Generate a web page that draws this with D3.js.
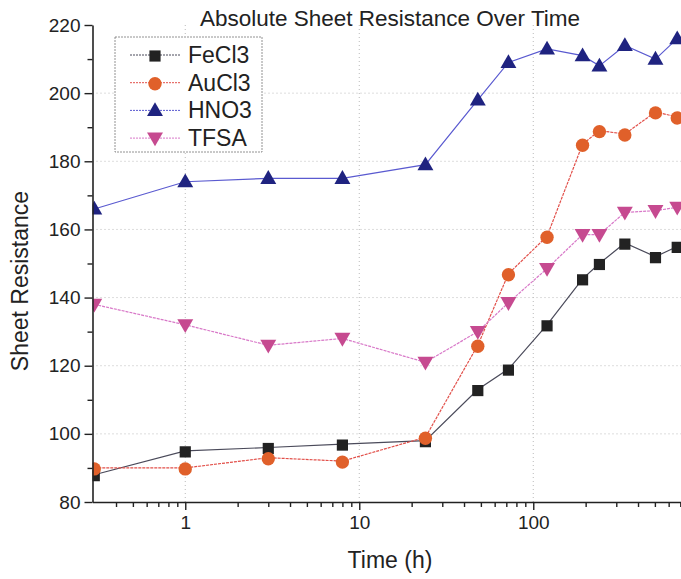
<!DOCTYPE html>
<html>
<head>
<meta charset="utf-8">
<script src="https://cdn.jsdelivr.net/npm/d3@7"></script>
<style>
  body { margin: 0; background: #fff; }
  svg { display: block; font-family: "Liberation Sans", Arial, sans-serif; }
</style>
</head>
<body>
<div id="chart"></div>
<script>
// time points (h)
var times = [0.3, 1, 3, 8, 24, 48, 72, 120, 192, 240, 336, 504, 672]
var fecl3 = [88, 95, 96, 97, 98, 113, 119, 132, 145.5, 150, 156, 152, 155]
var aucl3 = [90, 90, 93, 92, 99, 126, 147, 158, 185, 189, 188, 194.5, 193]
var hno3 = [166, 174, 175, 175, 179, 198, 209, 213, 211, 208, 214, 210, 216]
var tfsa = [138, 132, 126, 128, 121, 130, 138.5, 148.5, 158.5, 158.5, 165, 165.5, 166.5]
var names = ["FeCl3", "AuCl3", "HNO3", "TFSA"]
var yTicks = [80, 100, 120, 140, 160, 180, 200, 220]
var xTicks = [1, 10, 100]

var W = 681, H = 579
var pLeft = 92.5, pTop = 25, pBottom = 502
var decade = 174
var xMin = 0.293

var svg = d3.select("#chart").append("svg")
    .attr("width", W).attr("height", H)

var x = d3.scaleLog().domain([xMin, 1000]).range([pLeft, pLeft + Math.log10(1000 / xMin) * decade])
var y = d3.scaleLinear().domain([80, 220]).range([pBottom, pTop])

// 网格
var grid = svg.append("g")
grid.selectAll(".gx").data(xTicks).enter().append("line")
    .attr("x1", d => x(d)).attr("x2", d => x(d))
    .attr("y1", pTop).attr("y2", pBottom)
    .attr("stroke", "#bbb").attr("stroke-dasharray", "1,3")
grid.selectAll(".gy").data(yTicks.slice(1, -1)).enter().append("line")
    .attr("x1", pLeft).attr("x2", W)
    .attr("y1", d => y(d)).attr("y2", d => y(d))
    .attr("stroke", "#bbb").attr("stroke-dasharray", "1,3")

svg.append("clipPath").attr("id", "clip")
    .append("rect").attr("x", pLeft).attr("y", pTop - 10)
    .attr("width", W - pLeft).attr("height", pBottom - pTop + 10)

var series = [
    { name: names[0], vals: fecl3, line: "#4a4a5a", fill: "#222", shape: d3.symbolSquare, size: 125, rot: 0, dash: null },
    { name: names[1], vals: aucl3, line: "#e2504a", fill: "#e0602a", shape: d3.symbolCircle, size: 140, rot: 0, dash: "3,1" },
    { name: names[2], vals: hno3, line: "#5a5ad0", fill: "#1f2380", shape: d3.symbolTriangle, size: 110, rot: 0, dash: null },
    { name: names[3], vals: tfsa, line: "#d878c8", fill: "#c64a90", shape: d3.symbolTriangle, size: 110, rot: 180, dash: "3,1" }
]

var plot = svg.append("g").attr("clip-path", "url(#clip)")
var line = d3.line().x(d => x(d[0])).y(d => y(d[1]))

series.forEach(function (s) {
    var pts = times.map((t, i) => [t, s.vals[i]])
    plot.append("path")
        .attr("d", line(pts))
        .attr("fill", "none")
        .attr("stroke", s.line)
        .attr("stroke-width", 1.2)
        .attr("stroke-dasharray", s.dash)
    plot.selectAll(null).data(pts).enter().append("path")
        .attr("d", d3.symbol().type(s.shape).size(s.size))
        .attr("transform", d => "translate(" + x(d[0]) + "," + (y(d[1]) + (s.rot ? -1 : 1)) + ") rotate(" + s.rot + ")")
        .attr("fill", s.fill)
})

// 坐标轴
var xAxis = d3.axisBottom(x)
    .tickValues(d3.range(4, 10).map(i => i * 0.1)
        .concat(d3.range(1, 10), d3.range(10, 100, 10), d3.range(100, 1000, 100)))
    .tickFormat(d => xTicks.indexOf(d) >= 0 ? d : "")
    .tickSizeOuter(0)
var gx = svg.append("g").attr("transform", "translate(0," + pBottom + ")").call(xAxis)
gx.selectAll(".tick line").attr("y2", d => xTicks.indexOf(d) >= 0 ? 8 : 5).attr("stroke-width", 1.4)
gx.select(".domain").attr("stroke-width", 1.6)
gx.selectAll("text").attr("font-size", 19).attr("fill", "#222").attr("y", 14).attr("dy", "0.71em")

var yAxis = d3.axisLeft(y)
    .tickValues(d3.range(80, 221, 10))
    .tickFormat(d => yTicks.indexOf(d) >= 0 ? d : "")
    .tickSizeOuter(0)
var gy = svg.append("g").attr("transform", "translate(" + pLeft + ",0)").call(yAxis)
gy.selectAll(".tick line").attr("x2", d => yTicks.indexOf(d) >= 0 ? -8 : -5).attr("stroke-width", 1.4)
gy.select(".domain").attr("stroke-width", 1.6)
gy.selectAll("text").attr("font-size", 19).attr("fill", "#222").attr("x", -12)
svg.selectAll(".domain, .tick line").attr("stroke", "#222")

// 标题和轴标签
svg.append("text").text("Absolute Sheet Resistance Over Time")
    .attr("x", 390).attr("y", 26).attr("text-anchor", "middle")
    .attr("font-size", 22.5).attr("fill", "#222")
svg.append("text").text("Time (h)")
    .attr("x", 390).attr("y", 568).attr("text-anchor", "middle")
    .attr("font-size", 23).attr("fill", "#222")
svg.append("text").text("Sheet Resistance")
    .attr("transform", "translate(28,281) rotate(-90)").attr("text-anchor", "middle")
    .attr("font-size", 23).attr("fill", "#222")

// 图例
var lg = svg.append("g")
lg.append("rect").attr("x", 115).attr("y", 37).attr("width", 147).attr("height", 115)
    .attr("fill", "#fff").attr("stroke", "#777").attr("stroke-width", 0.8).attr("stroke-dasharray", "2,1")
var lgRow = lg.selectAll(".row").data(series).enter().append("g")
    .attr("transform", (d, i) => "translate(0," + (55 + i * 27.7) + ")")
lgRow.append("line").attr("x1", 130).attr("x2", 180)
    .attr("stroke", d => d.line).attr("stroke-width", 1).attr("stroke-dasharray", "2,1")
lgRow.append("path")
    .attr("d", d => d3.symbol().type(d.shape).size(d.size)())
    .attr("transform", d => "translate(155," + (d.rot ? -1 : 1) + ") rotate(" + d.rot + ")")
    .attr("fill", d => d.fill)
lgRow.append("text").text(d => d.name)
    .attr("x", 188).attr("y", 8).attr("font-size", 23).attr("fill", "#222")
</script>
</body>
</html>
